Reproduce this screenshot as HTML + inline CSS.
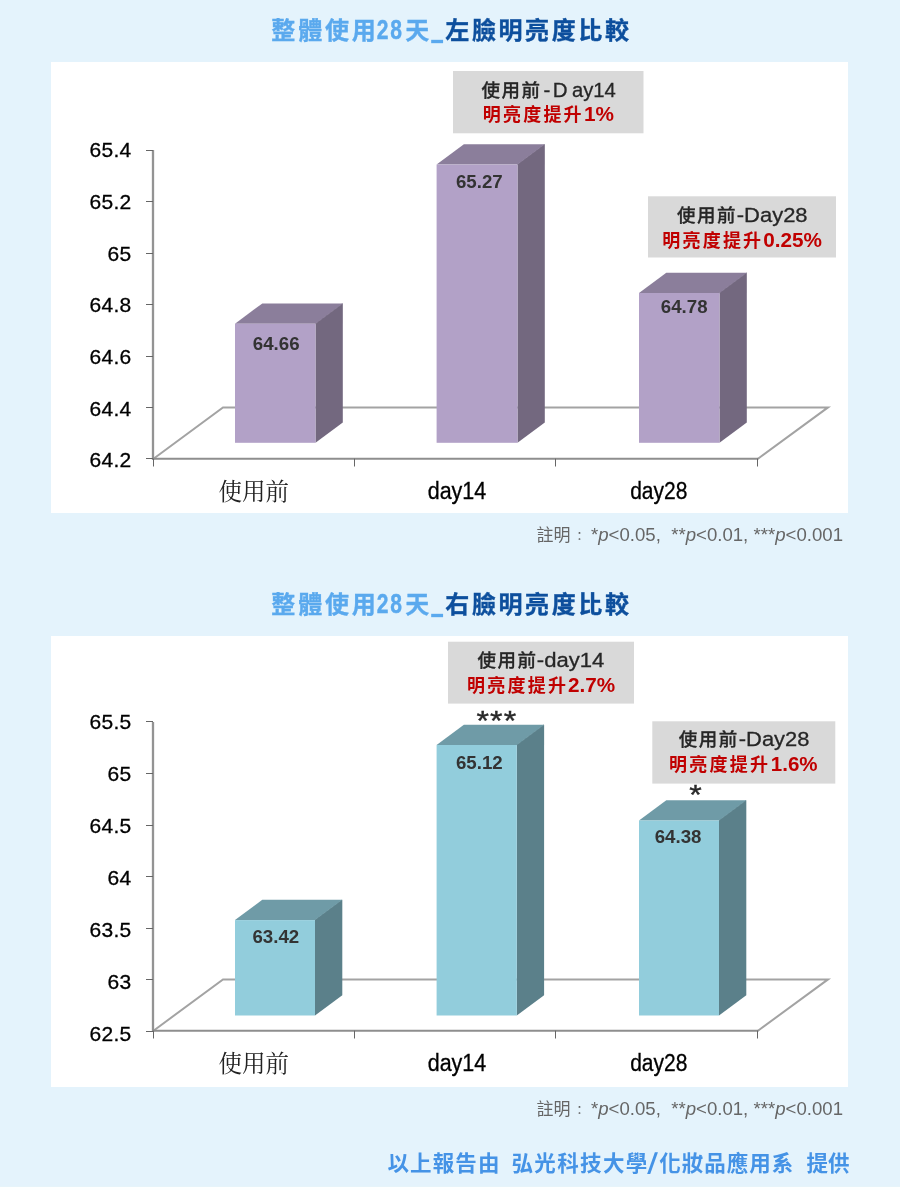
<!DOCTYPE html>
<html lang="zh-Hant">
<head>
<meta charset="utf-8">
<title>整體使用28天 明亮度比較</title>
<style>
html,body{margin:0;padding:0;background:#e4f3fc;}
body{width:900px;height:1190px;overflow:hidden;}
svg{display:block;}
text{font-family:"Liberation Sans","Noto Sans CJK TC","Noto Sans CJK JP",sans-serif;white-space:pre;}
.ttl{font-weight:bold;font-size:24px;stroke-width:0.35px;}
.yl{font-size:21px;letter-spacing:0.3px;fill:#000;stroke:#000;stroke-width:0.3px;text-anchor:end;}
.val{font-size:18.7px;font-weight:bold;fill:#333;text-anchor:middle;}
.xl{font-size:23px;fill:#000;stroke:#000;stroke-width:0.3px;}
.xs{font-family:"Liberation Serif","Noto Serif CJK SC",serif;font-size:23.5px;fill:#222;}
.b1{fill:#262626;stroke:#262626;stroke-width:0.3px;}
.b1c{font-size:18.5px;font-weight:500;letter-spacing:1.5px;}
.b1l{font-size:20.5px;}
.b2{font-weight:bold;fill:#c00000;}
.b2c{font-size:18px;letter-spacing:2.2px;}
.b2l{font-size:20px;}
.st{font-size:32px;fill:#2a2a2a;stroke:#2a2a2a;stroke-width:0.45px;}
.nt{font-size:18.5px;fill:#666;text-anchor:end;}
.ntc{font-size:17px;fill:#666;}
.ft{font-size:21.5px;font-weight:bold;fill:#4593e6;}
</style>
</head>
<body>
<svg width="900" height="1190" viewBox="0 0 900 1190">
<rect x="0" y="0" width="900" height="1190" fill="#e4f3fc"/>
<rect x="0" y="1186" width="900" height="1" fill="#e6f4fa"/>
<rect x="0" y="1187" width="900" height="3" fill="#fdffff"/>
<text class="ttl" x="271.3" y="38.5" fill="#5aa9ee" stroke="#5aa9ee" textLength="104.5" lengthAdjust="spacing">整體使用</text>
<text class="ttl" transform="translate(376.8,39.4) scale(0.88,1.15)" fill="#5aa9ee" stroke="#5aa9ee" letter-spacing="1.9">28</text>
<text class="ttl" x="405.3" y="38.5" fill="#5aa9ee" stroke="#5aa9ee">天</text>
<text class="ttl" x="432.3" y="39.1" fill="#5aa9ee" stroke="#5aa9ee" style="stroke-width:2.4px" textLength="9.8" lengthAdjust="spacingAndGlyphs">_</text>
<text class="ttl" x="445.3" y="38.5" fill="#0d4f9d" stroke="#0d4f9d" textLength="183.6" lengthAdjust="spacing">左臉明亮度比較</text>
<rect x="51" y="62" width="797" height="451" fill="#fff"/>
<polyline points="153.5,458.7 223,407.4 828,407.4 758,458.7" fill="none" stroke="#a3a3a3" stroke-width="2" stroke-linejoin="miter"/>
<line x1="153" y1="150" x2="153" y2="459.7" stroke="#939393" stroke-width="2.3"/>
<line x1="152" y1="458.7" x2="758.5" y2="458.7" stroke="#8e8e8e" stroke-width="2"/>
<line x1="146" y1="150.5" x2="153" y2="150.5" stroke="#666" stroke-width="1"/>
<text class="yl" x="131.5" y="157.2">65.4</text>
<line x1="146" y1="201.5" x2="153" y2="201.5" stroke="#666" stroke-width="1"/>
<text class="yl" x="131.5" y="208.9">65.2</text>
<line x1="146" y1="253.5" x2="153" y2="253.5" stroke="#666" stroke-width="1"/>
<text class="yl" x="131.5" y="260.6">65</text>
<line x1="146" y1="304.5" x2="153" y2="304.5" stroke="#666" stroke-width="1"/>
<text class="yl" x="131.5" y="312.3">64.8</text>
<line x1="146" y1="356.5" x2="153" y2="356.5" stroke="#666" stroke-width="1"/>
<text class="yl" x="131.5" y="364.0">64.6</text>
<line x1="146" y1="407.5" x2="153" y2="407.5" stroke="#666" stroke-width="1"/>
<text class="yl" x="131.5" y="415.7">64.4</text>
<line x1="146" y1="458.5" x2="153" y2="458.5" stroke="#666" stroke-width="1"/>
<text class="yl" x="131.5" y="467.4">64.2</text>
<line x1="153.5" y1="458.7" x2="153.5" y2="466.5" stroke="#666" stroke-width="1"/>
<line x1="354.5" y1="458.7" x2="354.5" y2="466.5" stroke="#666" stroke-width="1"/>
<line x1="555.5" y1="458.7" x2="555.5" y2="466.5" stroke="#666" stroke-width="1"/>
<line x1="757.5" y1="458.7" x2="757.5" y2="466.5" stroke="#666" stroke-width="1"/>
<line x1="315.5" y1="323.7" x2="342.40000000000003" y2="303.7" stroke="#73687f" stroke-width="1"/>
<polygon points="315.5,323.7 342.8,303.4 342.8,422.5 315.5,442.8" fill="#73687f"/>
<polygon points="235,323.7 262.3,303.4 342.8,303.4 315.5,323.7" fill="#8b7e9b"/>
<rect x="235" y="323.7" width="80.5" height="119.10000000000002" fill="#b2a1c7"/>
<text class="val" x="276.2" y="350">64.66</text>
<line x1="517.5" y1="164.6" x2="544.4" y2="144.6" stroke="#73687f" stroke-width="1"/>
<polygon points="517.5,164.6 544.8,144.29999999999998 544.8,422.5 517.5,442.8" fill="#73687f"/>
<polygon points="436.6,164.6 463.90000000000003,144.29999999999998 544.8,144.29999999999998 517.5,164.6" fill="#8b7e9b"/>
<rect x="436.6" y="164.6" width="80.89999999999998" height="278.20000000000005" fill="#b2a1c7"/>
<text class="val" x="479.3" y="187.6">65.27</text>
<line x1="719.5" y1="293" x2="746.4" y2="273.0" stroke="#73687f" stroke-width="1"/>
<polygon points="719.5,293 746.8,272.7 746.8,422.5 719.5,442.8" fill="#73687f"/>
<polygon points="639,293 666.3,272.7 746.8,272.7 719.5,293" fill="#8b7e9b"/>
<rect x="639" y="293" width="80.5" height="149.8" fill="#b2a1c7"/>
<text class="val" x="684.2" y="312.8">64.78</text>
<text class="xs" x="218.5" y="500" textLength="70.5" lengthAdjust="spacingAndGlyphs">使用前</text>
<text class="xl" x="427.7" y="498.7" textLength="58.5" lengthAdjust="spacingAndGlyphs">day14</text>
<text class="xl" x="630.2" y="498.7" textLength="57.2" lengthAdjust="spacingAndGlyphs">day28</text>
<rect x="453" y="71" width="190.5" height="62.3" fill="#d9d9d9"/>
<text class="b1 b1c" x="481.4" y="97.3">使用前</text>
<text class="b1 b1l" x="543.6" y="97.3">-</text>
<text class="b1 b1l" x="552.8" y="97.3">D</text>
<text class="b1 b1l" x="572" y="97.3" textLength="43.8" lengthAdjust="spacingAndGlyphs">ay14</text>
<text class="b2 b2c" x="482.8" y="121.2">明亮度提升</text>
<text class="b2 b2l" x="584" y="121.2" textLength="30" lengthAdjust="spacingAndGlyphs">1%</text>
<rect x="648" y="196.3" width="188" height="61.2" fill="#d9d9d9"/>
<text class="b1 b1c" x="676.9" y="221.6">使用前</text>
<text class="b1 b1l" x="736.8" y="221.6" textLength="70.8" lengthAdjust="spacingAndGlyphs">-Day28</text>
<text class="b2 b2c" x="662.3" y="246.6">明亮度提升</text>
<text class="b2 b2l" x="763.2" y="246.6" textLength="58.8" lengthAdjust="spacingAndGlyphs">0.25%</text>
<text class="ntc" x="536.4" y="540.5">註明<tspan font-size="12.5" x="573.2" y="541.1">：</tspan></text>
<text class="nt" x="843" y="540.5" textLength="252" lengthAdjust="spacingAndGlyphs">*<tspan font-style="italic">p</tspan>&lt;0.05,  **<tspan font-style="italic">p</tspan>&lt;0.01, ***<tspan font-style="italic">p</tspan>&lt;0.001</text>
<text class="ttl" x="271.3" y="612.5" fill="#5aa9ee" stroke="#5aa9ee" textLength="104.5" lengthAdjust="spacing">整體使用</text>
<text class="ttl" transform="translate(376.8,613.4) scale(0.88,1.15)" fill="#5aa9ee" stroke="#5aa9ee" letter-spacing="1.9">28</text>
<text class="ttl" x="405.3" y="612.5" fill="#5aa9ee" stroke="#5aa9ee">天</text>
<text class="ttl" x="432.3" y="613.1" fill="#5aa9ee" stroke="#5aa9ee" style="stroke-width:2.4px" textLength="9.8" lengthAdjust="spacingAndGlyphs">_</text>
<text class="ttl" x="445.3" y="612.5" fill="#0d4f9d" stroke="#0d4f9d" textLength="183.6" lengthAdjust="spacing">右臉明亮度比較</text>
<rect x="51" y="636" width="797" height="451" fill="#fff"/>
<polyline points="153.5,1030.7 223,979.4 828,979.4 758,1030.7" fill="none" stroke="#a3a3a3" stroke-width="2" stroke-linejoin="miter"/>
<line x1="153" y1="722" x2="153" y2="1031.7" stroke="#939393" stroke-width="2.3"/>
<line x1="152" y1="1030.7" x2="758.5" y2="1030.7" stroke="#8e8e8e" stroke-width="2"/>
<line x1="146" y1="721.5" x2="153" y2="721.5" stroke="#666" stroke-width="1"/>
<text class="yl" x="131.5" y="729.4">65.5</text>
<line x1="146" y1="773.5" x2="153" y2="773.5" stroke="#666" stroke-width="1"/>
<text class="yl" x="131.5" y="781.4">65</text>
<line x1="146" y1="825.5" x2="153" y2="825.5" stroke="#666" stroke-width="1"/>
<text class="yl" x="131.5" y="833.4">64.5</text>
<line x1="146" y1="876.5" x2="153" y2="876.5" stroke="#666" stroke-width="1"/>
<text class="yl" x="131.5" y="885.4">64</text>
<line x1="146" y1="928.5" x2="153" y2="928.5" stroke="#666" stroke-width="1"/>
<text class="yl" x="131.5" y="937.4">63.5</text>
<line x1="146" y1="979.5" x2="153" y2="979.5" stroke="#666" stroke-width="1"/>
<text class="yl" x="131.5" y="989.4">63</text>
<line x1="146" y1="1031.5" x2="153" y2="1031.5" stroke="#666" stroke-width="1"/>
<text class="yl" x="131.5" y="1041.4">62.5</text>
<line x1="153.5" y1="1030.7" x2="153.5" y2="1038.5" stroke="#666" stroke-width="1"/>
<line x1="354.5" y1="1030.7" x2="354.5" y2="1038.5" stroke="#666" stroke-width="1"/>
<line x1="555.5" y1="1030.7" x2="555.5" y2="1038.5" stroke="#666" stroke-width="1"/>
<line x1="757.5" y1="1030.7" x2="757.5" y2="1038.5" stroke="#666" stroke-width="1"/>
<line x1="315" y1="920.1" x2="341.90000000000003" y2="900.1" stroke="#5b808a" stroke-width="1"/>
<polygon points="315,920.1 342.3,899.8000000000001 342.3,995.2 315,1015.5" fill="#5b808a"/>
<polygon points="235,920.1 262.3,899.8000000000001 342.3,899.8000000000001 315,920.1" fill="#6f9ba7"/>
<rect x="235" y="920.1" width="80" height="95.39999999999998" fill="#92cddc"/>
<text class="val" x="275.8" y="942.6">63.42</text>
<line x1="516.8" y1="745" x2="543.6999999999999" y2="725.0" stroke="#5b808a" stroke-width="1"/>
<polygon points="516.8,745 544.0999999999999,724.7 544.0999999999999,995.2 516.8,1015.5" fill="#5b808a"/>
<polygon points="436.6,745 463.90000000000003,724.7 544.0999999999999,724.7 516.8,745" fill="#6f9ba7"/>
<rect x="436.6" y="745" width="80.19999999999993" height="270.5" fill="#92cddc"/>
<text class="val" x="479.3" y="769.4">65.12</text>
<line x1="719" y1="820.5" x2="745.9" y2="800.5" stroke="#5b808a" stroke-width="1"/>
<polygon points="719,820.5 746.3,800.2 746.3,995.2 719,1015.5" fill="#5b808a"/>
<polygon points="639,820.5 666.3,800.2 746.3,800.2 719,820.5" fill="#6f9ba7"/>
<rect x="639" y="820.5" width="80" height="195.0" fill="#92cddc"/>
<text class="val" x="678.1" y="843">64.38</text>
<text class="xs" x="218.5" y="1072" textLength="70.5" lengthAdjust="spacingAndGlyphs">使用前</text>
<text class="xl" x="427.7" y="1070.7" textLength="58.5" lengthAdjust="spacingAndGlyphs">day14</text>
<text class="xl" x="630.2" y="1070.7" textLength="57.2" lengthAdjust="spacingAndGlyphs">day28</text>
<rect x="448" y="641.7" width="186" height="61.9" fill="#d9d9d9"/>
<text class="b1 b1c" x="477.4" y="666.9">使用前</text>
<text class="b1 b1l" x="536.8" y="666.9" textLength="67.6" lengthAdjust="spacingAndGlyphs">-day14</text>
<text class="b2 b2c" x="467.1" y="691.5">明亮度提升</text>
<text class="b2 b2l" x="568" y="691.5" textLength="47.2" lengthAdjust="spacingAndGlyphs">2.7%</text>
<rect x="652.3" y="721.3" width="183" height="62.3" fill="#d9d9d9"/>
<text class="b1 b1c" x="678.8" y="745.6">使用前</text>
<text class="b1 b1l" x="738.8" y="745.6" textLength="70.6" lengthAdjust="spacingAndGlyphs">-Day28</text>
<text class="b2 b2c" x="669.1" y="770.6">明亮度提升</text>
<text class="b2 b2l" x="770.8" y="770.6" textLength="46.8" lengthAdjust="spacingAndGlyphs">1.6%</text>
<text class="st" transform="translate(476.4,729.8) scale(1,0.87)" letter-spacing="1.2">***</text>
<text class="st" transform="translate(689.2,804.1) scale(1,0.87)" letter-spacing="0">*</text>
<text class="ntc" x="536.4" y="1114.5">註明<tspan font-size="12.5" x="573.2" y="1115.1">：</tspan></text>
<text class="nt" x="843" y="1114.5" textLength="252" lengthAdjust="spacingAndGlyphs">*<tspan font-style="italic">p</tspan>&lt;0.05,  **<tspan font-style="italic">p</tspan>&lt;0.01, ***<tspan font-style="italic">p</tspan>&lt;0.001</text>
<text class="ft" y="1170.5"><tspan x="387.5" letter-spacing="1.1">以上報告由 </tspan><tspan x="511.5" letter-spacing="1.35">弘光科技大學</tspan><tspan x="659.3" letter-spacing="1.0">化妝品應用系</tspan><tspan x="806.4" letter-spacing="0.2">提供</tspan></text>
<text class="ft" transform="translate(646.8,1170) scale(1.35,0.96)" style="font-family:'Noto Sans CJK TC','Noto Sans CJK JP',sans-serif;font-size:23px">/</text>
</svg>
</body>
</html>
